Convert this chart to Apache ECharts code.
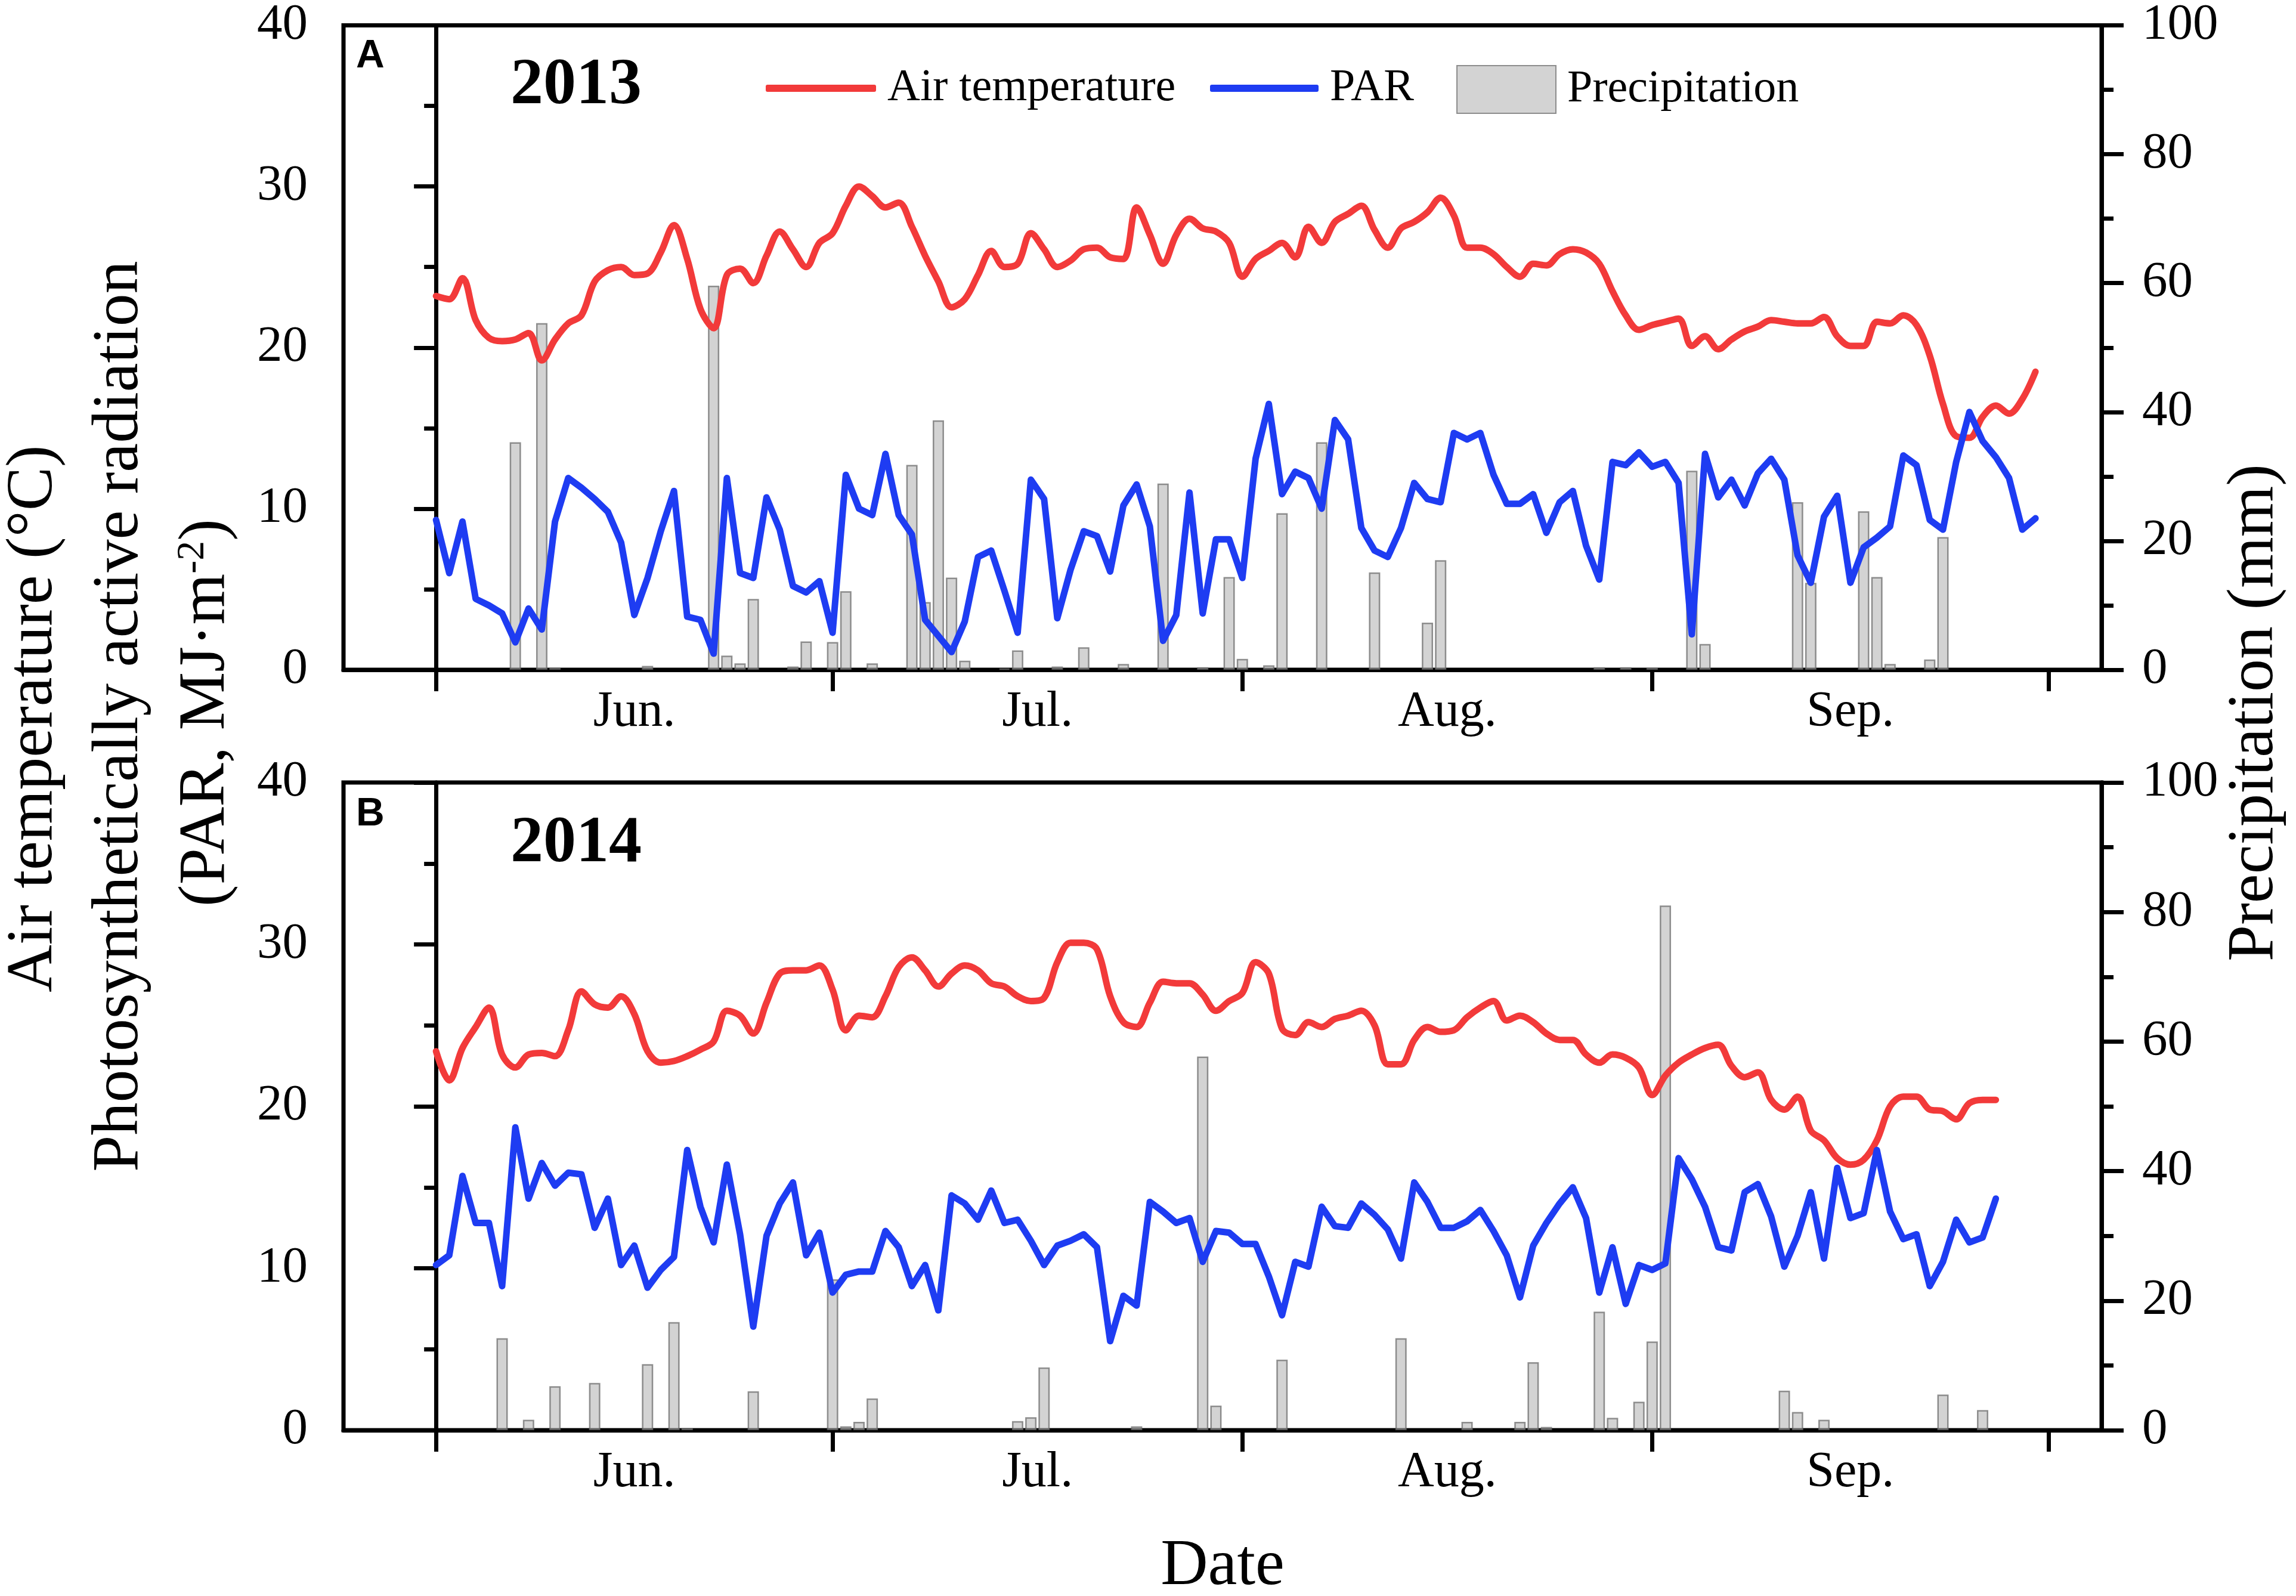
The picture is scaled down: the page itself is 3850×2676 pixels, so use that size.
<!DOCTYPE html>
<html>
<head>
<meta charset="utf-8">
<script src="https://cdn.jsdelivr.net/npm/echarts@6/dist/echarts.min.js"></script>
<style>
html,body{margin:0;padding:0;background:#fff;}
#chart{width:3850px;height:2676px;}
</style>
</head>
<body>
<div id="chart"></div>
<script>
// ---- data (day index: 0 = 1 June) ----
const monthTickDays = [0, 30, 61, 92, 122];
const monthLabelDays = [15, 45.5, 76.5, 107];
const monthLabels = ['Jun.', 'Jul.', 'Aug.', 'Sep.'];

const temp2013 = [23.2,23.0,24.3,21.7,20.6,20.4,20.5,20.9,19.2,20.5,
  21.5,22.0,24.1,24.8,25.0,24.5,24.6,25.9,27.6,25.5,
  22.4,21.2,24.5,24.9,24.0,25.7,27.2,26.1,25.0,26.5,
  27.1,28.8,30.0,29.4,28.7,29.0,27.5,25.7,24.1,22.5,
  23.0,24.5,26.0,25.0,25.2,27.1,26.1,25.0,25.4,26.1,
  26.2,25.6,25.5,28.7,27.0,25.2,27.0,28.0,27.4,27.2,
  26.5,24.4,25.5,26.0,26.5,25.6,27.5,26.5,27.8,28.3,
  28.8,27.3,26.2,27.4,27.8,28.4,29.3,28.2,26.2,26.2,
  25.8,25.0,24.4,25.2,25.1,25.8,26.1,25.9,25.2,23.5,
  22.0,21.1,21.4,21.6,21.8,20.1,20.7,19.9,20.5,21.0,
  21.3,21.7,21.6,21.5,21.5,21.9,20.7,20.1,20.1,21.6,
  21.5,22.0,21.4,19.5,16.5,14.5,14.4,15.7,16.4,15.9,
  16.8,18.5];
const par2013 = [9.3,6.0,9.2,4.4,4.0,3.5,1.7,3.8,2.5,9.2,
  11.9,11.3,10.6,9.8,7.9,3.4,5.7,8.6,11.1,3.3,
  3.1,1.0,11.9,6.0,5.7,10.7,8.7,5.2,4.8,5.5,
  2.3,12.1,10.0,9.6,13.4,9.6,8.4,3.1,2.1,1.1,
  3.0,7.0,7.4,4.9,2.3,11.8,10.6,3.2,6.2,8.6,
  8.3,6.1,10.2,11.5,8.9,1.8,3.4,11.0,3.5,8.1,
  8.1,5.7,13.1,16.5,10.9,12.3,11.9,10.0,15.5,14.3,
  8.8,7.4,7.0,8.8,11.6,10.6,10.4,14.7,14.3,14.7,
  12.1,10.3,10.3,10.9,8.5,10.4,11.1,7.7,5.6,12.9,
  12.7,13.5,12.6,12.9,11.6,2.2,13.4,10.7,11.8,10.2,
  12.2,13.1,11.8,7.1,5.4,9.5,10.8,5.4,7.6,8.2,
  8.9,13.3,12.7,9.3,8.7,12.9,16.0,14.2,13.2,11.9,
  8.7,9.4];
const precipDays2013 = [6,8,9,16,21,22,23,24,27,28,30,31,33,36,37,38,39,40,43,44,47,49,52,55,58,60,61,63,64,67,71,75,76,88,90,92,95,96,103,104,108,109,110,113,114];
const precip2013 = [35.3,53.8,0.3,0.6,59.6,2.2,1.0,11.0,0.5,4.4,4.3,12.2,1.0,31.8,10.5,38.7,14.3,1.4,0.2,3.0,0.5,3.5,0.9,28.9,0.4,14.4,1.7,0.7,24.3,35.3,15.1,7.3,17.0,0.4,0.4,0.3,30.9,4.0,26.0,13.5,24.6,14.4,0.9,1.6,20.6];

const temp2014 = [23.4,21.6,23.6,24.9,26.1,23.2,22.4,23.2,23.3,23.1,
  24.7,27.1,26.3,26.1,26.8,25.7,23.4,22.7,22.8,23.1,
  23.5,24.0,25.9,25.6,24.5,26.4,28.2,28.4,28.4,28.7,
  27.2,24.7,25.6,25.5,26.8,28.6,29.2,28.4,27.4,28.2,
  28.7,28.4,27.6,27.4,26.8,26.5,26.7,28.9,30.1,30.1,
  29.7,26.8,25.2,24.9,26.4,27.7,27.6,27.6,26.9,25.9,
  26.5,27.0,28.9,28.2,24.8,24.4,25.2,24.9,25.4,25.6,
  25.9,25.0,22.6,22.6,24.1,24.9,24.6,24.7,25.5,26.1,
  26.5,25.3,25.6,25.2,24.5,24.1,24.1,23.2,22.7,23.2,
  23.0,22.4,20.7,21.9,22.7,23.2,23.6,23.8,22.5,21.8,
  22.1,20.4,19.8,20.6,18.5,17.9,16.8,16.4,16.7,17.9,
  20.0,20.6,20.6,19.8,19.7,19.2,20.2,20.4,20.4];
const par2014 = [10.2,10.8,15.7,12.8,12.8,8.9,18.7,14.3,16.5,15.1,
  15.9,15.8,12.5,14.3,10.2,11.4,8.8,9.9,10.7,17.3,
  13.8,11.6,16.4,12.1,6.4,12.0,14.0,15.3,10.8,12.2,
  8.5,9.6,9.8,9.8,12.3,11.3,8.9,10.2,7.4,14.5,
  14.0,13.0,14.8,12.8,13.0,11.7,10.2,11.4,11.7,12.1,
  11.3,5.5,8.3,7.7,14.1,13.5,12.8,13.1,10.4,12.3,
  12.2,11.5,11.5,9.5,7.1,10.4,10.1,13.8,12.6,12.5,
  14.0,13.3,12.4,10.6,15.3,14.1,12.5,12.5,12.9,13.6,
  12.3,10.8,8.2,11.4,12.8,14.0,15.0,13.1,8.5,11.3,
  7.8,10.2,9.9,10.3,16.8,15.5,13.8,11.3,11.1,14.7,
  15.2,13.2,10.1,12.0,14.7,10.6,16.2,13.1,13.4,17.3,
  13.5,11.8,12.1,8.9,10.4,13.0,11.6,11.9,14.3];
const precipDays2014 = [5,7,9,12,16,18,19,24,30,31,32,33,44,45,46,53,58,59,64,73,78,82,83,84,88,89,91,92,93,102,103,105,114,117];
const precip2014 = [14.2,1.6,6.8,7.3,10.2,16.7,0.3,6.0,23.3,0.6,1.3,4.9,1.4,2.0,9.7,0.6,57.7,3.8,10.9,14.2,1.3,1.3,10.5,0.5,18.3,1.9,4.4,13.7,81.0,6.1,2.8,1.6,5.5,3.1];

const leftTicks = {min: 0, max: 40, interval: 10};
const rightTicks = {min: 0, max: 100, interval: 20};

// ---- helpers ----
const byDay = arr => arr.map((v, i) => [i, v]);
const pairs = (days, vals) => days.map((d, i) => [d, vals[i]]);

const SERIF = '"Liberation Serif", "Times New Roman", serif';
const RED = '#F23A3A';
const BLUE = '#1E3CF2';
const AXW = 7;

function xAxisCfg(gi) {
  return {
    type: 'value', gridIndex: gi, min: -7, max: 126,
    axisLine: {show: true, onZero: false, lineStyle: {color: '#000', width: AXW}},
    axisTick: {show: true, inside: false, length: 36, customValues: monthTickDays, lineStyle: {color: '#000', width: AXW}},
    axisLabel: {show: true, customValues: monthLabelDays, margin: 30,
      formatter: v => { const k = monthLabelDays.indexOf(v); return k >= 0 ? monthLabels[k] : ''; },
      fontFamily: SERIF, fontSize: 84, color: '#000'},
    splitLine: {show: false}, minorTick: {show: false}
  };
}
function yAxisCfg(gi, pos, t, margin) {
  return {
    type: 'value', gridIndex: gi, position: pos, min: t.min, max: t.max, interval: t.interval,
    axisLine: {show: true, lineStyle: {color: '#000', width: AXW}},
    axisTick: {show: true, inside: false, length: 37, lineStyle: {color: '#000', width: AXW}},
    minorTick: {show: true, splitNumber: 2, length: 20, lineStyle: {color: '#000', width: AXW}},
    axisLabel: {show: true, margin: margin, fontFamily: SERIF, fontSize: 85, color: '#000'},
    splitLine: {show: false}, minorSplitLine: {show: false}
  };
}
function lineSeries(name, xi, yi, data, color, smooth) {
  return {type: 'line', name: name, xAxisIndex: xi, yAxisIndex: yi, data: data,
    symbol: 'none', smooth: smooth, lineStyle: {color: color, width: 11, cap: 'round', join: 'round'}, itemStyle: {color: color},
    animation: false};
}
function barSeries(xi, yi, data) {
  return {type: 'bar', name: 'Precipitation', xAxisIndex: xi, yAxisIndex: yi, data: data,
    barWidth: 19, itemStyle: {color: 'rgba(176,176,176,0.56)', borderColor: 'rgba(110,110,110,0.75)', borderWidth: 2.5},
    animation: false};
}
function rotText(x, y, text, rich) {
  const st = {text: text, fontFamily: SERIF, fontSize: 110, fill: '#000',
    align: 'center', verticalAlign: 'middle', textAlign: 'center', textVerticalAlign: 'middle'};
  if (rich) st.rich = rich;
  return {type: 'text', x: x, y: y, rotation: Math.PI / 2, style: st};
}
function plainText(x, y, text, font, size, weight) {
  return {type: 'text', x: x, y: y, style: {text: text, fontFamily: font, fontSize: size, fontWeight: weight, fill: '#000',
    align: 'left', verticalAlign: 'middle', textAlign: 'left', textVerticalAlign: 'middle'}};
}

const legendText = {fontFamily: SERIF, fontSize: 76, color: '#000', padding: [0, 0, 0, 14]};

const chart = echarts.init(document.getElementById('chart'), null, {renderer: 'canvas', width: 3850, height: 2676});
chart.setOption({
  backgroundColor: '#fff',
  animation: false,
  grid: [
    {left: 576, right: 326, top: 40, height: 1083, show: true, borderColor: '#000', borderWidth: AXW, backgroundColor: 'transparent'},
    {left: 576, right: 326, top: 1312, height: 1086, show: true, borderColor: '#000', borderWidth: AXW, backgroundColor: 'transparent'}
  ],
  xAxis: [xAxisCfg(0), xAxisCfg(1)],
  yAxis: [yAxisCfg(0, 'left', leftTicks, 60), yAxisCfg(0, 'right', rightTicks, 68),
          yAxisCfg(1, 'left', leftTicks, 60), yAxisCfg(1, 'right', rightTicks, 68)],
  legend: [
    {data: [{name: 'Air temperature', icon: 'roundRect'}], left: 1279, top: 105, itemWidth: 185, itemHeight: 12, selectedMode: false, textStyle: legendText},
    {data: [{name: 'PAR', icon: 'roundRect'}], left: 2024, top: 105, itemWidth: 182, itemHeight: 12, selectedMode: false, textStyle: legendText},
    {data: [{name: 'Precipitation', icon: 'rect'}], left: 2437, top: 104, itemWidth: 166, itemHeight: 80, selectedMode: false, textStyle: legendText}
  ],
  series: [
    lineSeries('Air temperature', 0, 0, byDay(temp2013), RED, 0.35),
    lineSeries('PAR', 0, 0, byDay(par2013), BLUE, false),
    barSeries(0, 1, pairs(precipDays2013, precip2013)),
    lineSeries('Air temperature', 1, 2, byDay(temp2014), RED, 0.35),
    lineSeries('PAR', 1, 2, byDay(par2014), BLUE, false),
    barSeries(1, 3, pairs(precipDays2014, precip2014))
  ],
  graphic: [
    plainText(597, 95, 'A', '"Liberation Sans", Arial, sans-serif', 66, 'bold'),
    plainText(856, 145, '2013', SERIF, 110, 'bold'),
    plainText(597, 1366, 'B', '"Liberation Sans", Arial, sans-serif', 66, 'bold'),
    plainText(856, 1416, '2014', SERIF, 110, 'bold'),
    rotText(57, 1205, 'Air temperature (°C)'),
    rotText(201, 1201, 'Photosynthetically active radiation'),
    rotText(346, 1195, '(PAR, MJ·m{sup|-2})', {sup: {fontFamily: SERIF, fontSize: 66, verticalAlign: 'top', lineHeight: 110}}),
    rotText(3781, 1195, 'Precipitation (mm)'),
    {type: 'text', x: 2050, y: 2627, style: {text: 'Date', fontFamily: SERIF, fontSize: 110, fill: '#000',
      align: 'center', verticalAlign: 'middle', textAlign: 'center', textVerticalAlign: 'middle'}}
  ]
});
</script>
</body>
</html>
